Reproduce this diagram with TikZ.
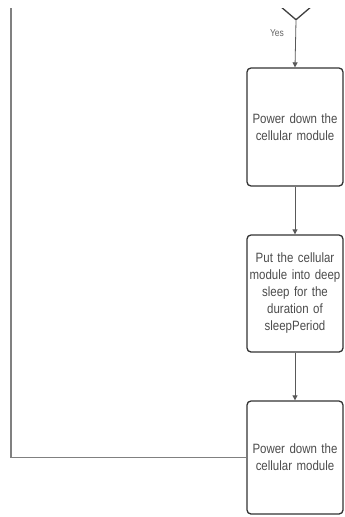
\documentclass[tikz,border=0pt]{standalone}
\usepackage{fontspec}
\setmainfont{Liberation Sans}[FakeStretch=0.85]
\usetikzlibrary{shapes.geometric,arrows.meta}
\begin{document}
\begin{tikzpicture}[x=1pt,y=-1pt,
  box/.style={draw=black!80, line width=1.3pt, rounded corners=4pt,
    minimum width=96pt, text width=94pt, align=center, inner sep=0pt,
    text=black!70, font=\fontsize{13.5}{17}\selectfont},
  flow/.style={draw=black!65, line width=0.8pt, -{Triangle[length=5pt,width=5pt]}},
  loopline/.style={draw=black!50, line width=1.4pt},
  lbl/.style={text=black!60, font=\fontsize{10}{12}\selectfont, inner sep=1pt}]
\useasboundingbox (0,0) rectangle (345,517);
\fill[white] (0,0) rectangle (345,517);
\begin{scope}
\clip (0,8) rectangle (345,517);
\node[diamond, draw=black!75, line width=1.3pt, minimum width=84pt,
      minimum height=72pt, inner sep=0pt] (dec) at (296,-16) {};
\node[box, minimum height=118pt] (b1) at (295,127)
  {Power down the\\cellular module};
\node[box, minimum height=117pt] (b2) at (295,293.5)
  {Put the cellular\\module into deep\\sleep for the\\duration of\\sleepPeriod};
\node[box, minimum height=113pt] (b3) at (295,457.5)
  {Power down the\\cellular module};
\node[lbl] (yes) at (277,33) {Yes};
\coordinate (top) at (11,0);
\draw[flow] (dec.south) -- (b1.north);
\draw[flow] (b1.south) -- (b2.north);
\draw[flow] (b2.south) -- (b3.north);
\draw[loopline] (top) |- (b3.west);
\end{scope}
\end{tikzpicture}
\end{document}
